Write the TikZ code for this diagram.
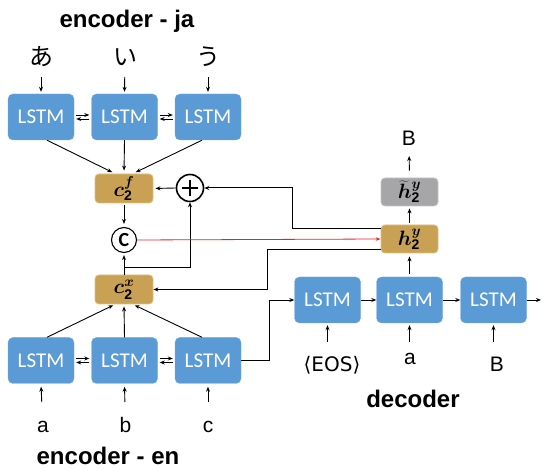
\documentclass[tikz,border=0pt]{standalone}
\usepackage{fontspec}
\usepackage{bm}
\setmainfont{Liberation Sans}
\newfontfamily\cjkfont{Noto Sans CJK JP}
\newfontfamily\lstmfont{Carlito}
\newfontfamily\djvfont{DejaVu Sans}
\usetikzlibrary{arrows.meta,calc}
\definecolor{lstmblue}{HTML}{5B9BD5}
\definecolor{goldc}{HTML}{C9A154}
\definecolor{goldb}{HTML}{DDBE78}
\definecolor{grayc}{HTML}{A6A6A8}
\definecolor{grayb}{HTML}{C4C4C6}
\definecolor{redl}{HTML}{E8202A}
\begin{document}
\begin{tikzpicture}[x=1pt,y=-1pt,
  lstm/.style={fill=lstmblue,draw=lstmblue!85!white,rounded corners=5pt,minimum width=66pt,minimum height=46pt,inner sep=0pt,text=white,font=\lstmfont\fontsize{21}{21}\selectfont},
  goldbox/.style={fill=goldc,draw=goldb,line width=0.8pt,rounded corners=4pt,minimum width=58pt,minimum height=29pt,inner sep=0pt,font=\fontsize{20}{20}\selectfont},
  graybox/.style={fill=grayc,draw=grayb,line width=0.8pt,rounded corners=4pt,minimum width=57pt,minimum height=28pt,inner sep=0pt,font=\fontsize{20}{20}\selectfont},
  arr/.style={-{Stealth[length=5pt,width=4pt]},line width=0.9pt},
  lbl/.style={inner sep=0pt,font=\fontsize{21}{21}\selectfont},
  jalbl/.style={inner sep=0pt,font=\cjkfont\fontsize{24}{24}\selectfont},
  ttl/.style={inner sep=0pt,font=\bfseries\fontsize{24}{24}\selectfont},
  circ/.style={circle,draw,fill=white,inner sep=0pt}
]
\useasboundingbox (0,0) rectangle (542,470);

% titles
\node[ttl,anchor=base] (tja) at (127,28) {encoder - ja};
\node[ttl,anchor=base] (ten) at (108,465) {encoder - en};
\node[ttl,anchor=base] (tde) at (413,408) {decoder};

% top encoder
\node[lstm] (ej1) at (41,117) {LSTM};
\node[lstm] (ej2) at (124.5,117) {LSTM};
\node[lstm] (ej3) at (208,117) {LSTM};
\node[jalbl] (ja1) at (41,57) {あ};
\node[jalbl] (ja2) at (125,57) {い};
\node[jalbl] (ja3) at (208,57) {う};
\foreach \i in {1,2,3}{
  \draw[arr,shorten <=20pt,shorten >=2pt] (ja\i.center) -- (ej\i.north);
}
\draw[arr,shorten <=2pt,shorten >=2pt] ([yshift=2pt]ej1.east) -- ([yshift=2pt]ej2.west);
\draw[arr,shorten <=2pt,shorten >=2pt] ([yshift=-2pt]ej2.west) -- ([yshift=-2pt]ej1.east);
\draw[arr,shorten <=2pt,shorten >=2pt] ([yshift=2pt]ej2.east) -- ([yshift=2pt]ej3.west);
\draw[arr,shorten <=2pt,shorten >=2pt] ([yshift=-2pt]ej3.west) -- ([yshift=-2pt]ej2.east);

% bottom encoder
\node[lstm] (ee1) at (41,360.5) {LSTM};
\node[lstm] (ee2) at (124.5,360.5) {LSTM};
\node[lstm] (ee3) at (208,360.5) {LSTM};
\node[lbl,anchor=base] (la) at (43,433) {a};
\node[lbl,anchor=base] (lb) at (125.5,433) {b};
\node[lbl,anchor=base] (lc) at (208,433) {c};
\draw[arr,shorten <=31pt,shorten >=3pt] (la.base) -- (ee1.south);
\draw[arr,shorten <=31pt,shorten >=3pt] (lb.base) -- (ee2.south);
\draw[arr,shorten <=31pt,shorten >=3pt] (lc.base) -- (ee3.south);
\draw[arr,shorten <=2pt,shorten >=2pt] ([yshift=2pt]ee1.east) -- ([yshift=2pt]ee2.west);
\draw[arr,shorten <=2pt,shorten >=2pt] ([yshift=-2pt]ee2.west) -- ([yshift=-2pt]ee1.east);
\draw[arr,shorten <=2pt,shorten >=2pt] ([yshift=2pt]ee2.east) -- ([yshift=2pt]ee3.west);
\draw[arr,shorten <=2pt,shorten >=2pt] ([yshift=-2pt]ee3.west) -- ([yshift=-2pt]ee2.east);

% attention part
\node[goldbox] (c2f) at (124,188.5) {$\bm{c}_{\mathbf{2}}^{\bm{f}}$};
\node[goldbox] (c2x) at (124,289.5) {$\bm{c}_{\mathbf{2}}^{\bm{x}}$};
\node[circ,minimum size=27pt,line width=1.6pt] (plus) at (190,188) {};
\draw[line width=2pt] ($(plus.center)+(-8,0)$) -- ($(plus.center)+(8,0)$);
\draw[line width=2pt] ($(plus.center)+(0,-8)$) -- ($(plus.center)+(0,8)$);
\node[circ,minimum size=25pt,line width=1.1pt,font=\lstmfont\bfseries\fontsize{20}{20}\selectfont] (cc) at (124,240) {C};

\draw[arr,shorten >=3pt] ([xshift=6pt]ej1.south) -- ([xshift=-9pt]c2f.north);
\draw[arr,shorten >=3pt] (ej2.south) -- (c2f.north);
\draw[arr,shorten >=3pt] ([xshift=-6pt]ej3.south) -- ([xshift=9pt]c2f.north);
\draw[arr,shorten >=2pt] ([xshift=6pt]ee1.north) -- ([xshift=-9pt]c2x.south);
\draw[arr,shorten >=2pt] (ee2.north) -- (c2x.south);
\draw[arr,shorten >=2pt] ([xshift=-6pt]ee3.north) -- ([xshift=9pt]c2x.south);

\draw[arr,shorten <=2pt,shorten >=3pt] (c2f.south) -- (cc.north);
\draw[arr,shorten >=2pt] (c2x.north) -- (cc.south);
\coordinate (br) at (124,267);
\draw[arr] (br) -| (plus.south);
\draw[arr,shorten >=2pt] (plus.west) -- (c2f.east);

% decoder
\node[lstm] (d1) at (327.5,300) {LSTM};
\node[lstm] (d2) at (409.5,300) {LSTM};
\node[lstm] (d3) at (493.5,300) {LSTM};
\node[goldbox,minimum width=57pt,minimum height=28pt] (h2y) at (409.5,239) {$\bm{h}_{\mathbf{2}}^{\bm{y}}$};
\node[graybox] (h2t) at (409.5,192) {$\widetilde{\bm{h}}{}_{\mathbf{2}}^{\bm{y}}$};
\node[lbl,anchor=base] (bt) at (409,146) {B};
\draw[arr,shorten <=7pt,shorten >=10pt] (h2t.north) -- (bt.base);
\draw[arr,shorten <=2pt,shorten >=2pt] (h2y.north) -- (h2t.south);
\draw[arr,shorten <=3pt,shorten >=3pt] (d2.north) -- (h2y.south);

\node[lbl,anchor=base,font=\djvfont\fontsize{20}{20}\selectfont] (leos) at (332,372) {⟨EOS⟩};
\node[lbl,anchor=base] (la2) at (410,365) {a};
\node[lbl,anchor=base] (lB) at (497,372) {B};
\draw[arr,shorten <=30pt,shorten >=2pt] (leos.base -| d1.south) -- (d1.south);
\draw[arr,shorten <=23pt,shorten >=2pt] (la2.base -| d2.south) -- (d2.south);
\draw[arr,shorten <=30pt,shorten >=2pt] (lB.base -| d3.south) -- (d3.south);

\draw[arr] (d1.east) -- (d2.west);
\draw[arr] (d2.east) -- (d3.west);
\coordinate (dout) at (541,300);
\draw[arr] (d3.east) -- (dout);
\coordinate (k3) at (269,300);
\draw[arr] (ee3.east) -| (k3) -- (d1.west);

% feedback from h2y
\coordinate (k1) at (292,188);
\draw[arr,line width=1pt] ([yshift=10pt]h2y.west) -| (k1) -- (plus.east);
\coordinate (k2) at (267,250);
\draw[arr,line width=1pt] ([yshift=-11pt]h2y.west) -- (k2) |- (c2x.east);
\draw[-{Stealth[length=5pt,width=3.5pt]},redl,line width=0.8pt] (cc.east) -- (h2y.west);
\end{tikzpicture}
\end{document}
